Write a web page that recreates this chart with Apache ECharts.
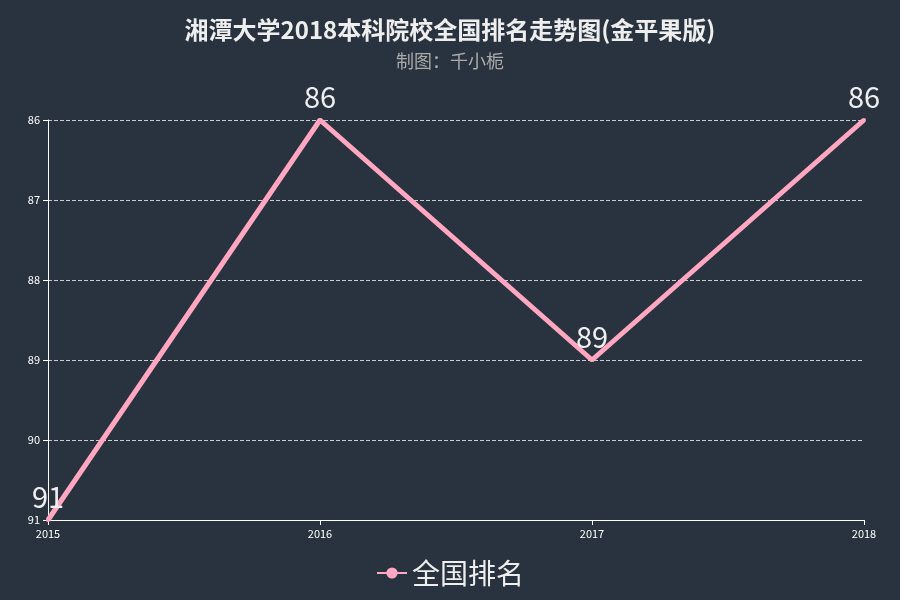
<!DOCTYPE html>
<html>
<head>
<meta charset="utf-8">
<script src="https://cdn.jsdelivr.net/npm/echarts@6/dist/echarts.min.js"></script>
<style>
html,body{margin:0;padding:0;background:#29333f;}
#main{width:900px;height:600px;}
</style>
</head>
<body>
<div id="main"></div>
<script>
var years = ['2015', '2016', '2017', '2018'];
var ranks = [91, 86, 89, 86];
var seriesName = '全国排名';

var myChart = echarts.init(document.getElementById('main'));
var option = {
    backgroundColor: '#29333f',
    textStyle: { fontFamily: 'Microsoft YaHei, "Noto Sans CJK SC", sans-serif' },
    title: {
        text: '湘潭大学2018本科院校全国排名走势图(金平果版)',
        subtext: '制图：千小栀',
        left: 'center',
        top: 13,
        itemGap: 10,
        textStyle: { color: '#eeeeee', fontSize: 24, fontWeight: 'bold' },
        subtextStyle: { color: '#aaaaaa', fontSize: 18 }
    },
    legend: {
        bottom: 8,
        data: [seriesName],
        itemWidth: 30,
        itemHeight: 14,
        textStyle: { color: '#eeeeee', fontSize: 28 }
    },
    grid: { left: 48, right: 36, top: 120, bottom: 80 },
    xAxis: {
        type: 'category',
        boundaryGap: false,
        data: years,
        axisLine: { lineStyle: { color: '#ffffff' } },
        axisTick: { lineStyle: { color: '#ffffff' } },
        axisLabel: { color: '#ffffff', fontSize: 11 }
    },
    yAxis: {
        type: 'value',
        inverse: true,
        min: 86,
        max: 91,
        interval: 1,
        axisLine: { show: true, lineStyle: { color: '#ffffff' } },
        axisTick: { show: true, lineStyle: { color: '#ffffff' } },
        axisLabel: { color: '#ffffff', fontSize: 11 },
        splitLine: { lineStyle: { color: '#cccccc', type: 'dashed' } }
    },
    series: [{
        name: seriesName,
        type: 'line',
        data: ranks,
        symbol: 'circle',
        symbolSize: 4,
        itemStyle: { color: '#ffa7c1' },
        lineStyle: { color: '#ffa7c1', width: 5 },
        label: {
            show: true,
            position: 'top',
            distance: 7,
            color: '#eeeeee',
            fontSize: 29
        }
    }]
};
myChart.setOption(option);
</script>
</body>
</html>
